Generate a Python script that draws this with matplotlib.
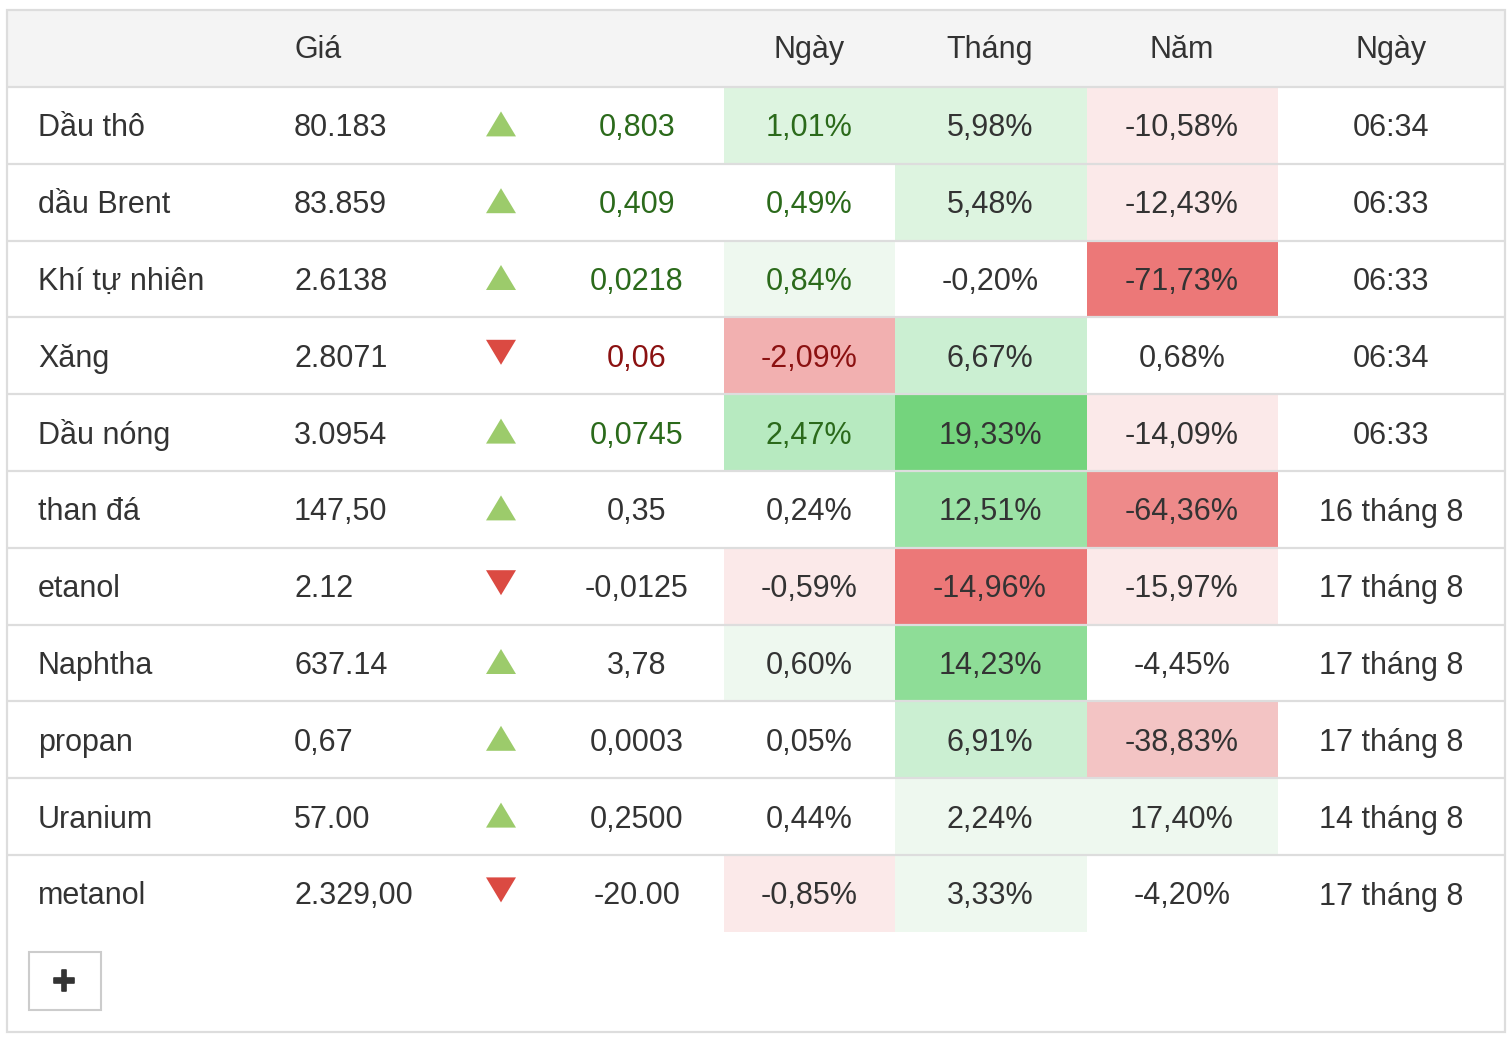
import matplotlib.pyplot as plt
import matplotlib.patheffects as pe
from matplotlib.patches import Rectangle, Polygon

plt.rcParams['font.family'] = ['Liberation Sans', 'DejaVu Sans']

names = ['Dầu thô', 'dầu Brent', 'Khí tự nhiên', 'Xăng', 'Dầu nóng', 'than đá',
         'etanol', 'Naphtha', 'propan', 'Uranium', 'metanol']
prices = ['80.183', '83.859', '2.6138', '2.8071', '3.0954', '147,50',
          '2.12', '637.14', '0,67', '57.00', '2.329,00']
direction = [1, 1, 1, -1, 1, 1, -1, 1, 1, 1, -1]
changes = ['0,803', '0,409', '0,0218', '0,06', '0,0745', '0,35',
           '-0,0125', '3,78', '0,0003', '0,2500', '-20.00']
day_pct = ['1,01%', '0,49%', '0,84%', '-2,09%', '2,47%', '0,24%',
           '-0,59%', '0,60%', '0,05%', '0,44%', '-0,85%']
month_pct = ['5,98%', '5,48%', '-0,20%', '6,67%', '19,33%', '12,51%',
             '-14,96%', '14,23%', '6,91%', '2,24%', '3,33%']
year_pct = ['-10,58%', '-12,43%', '-71,73%', '0,68%', '-14,09%', '-64,36%',
            '-15,97%', '-4,45%', '-38,83%', '17,40%', '-4,20%']
dates = ['06:34', '06:33', '06:33', '06:34', '06:33', '16 tháng 8',
         '17 tháng 8', '17 tháng 8', '17 tháng 8', '14 tháng 8', '17 tháng 8']
# heat level of each cell (day, month, year), read from the shading
day_heat = [2, 0, 1, -3, 4, 0, -1, 1, 0, 0, -1]
month_heat = [2, 2, 0, 3, 7, 5, -5, 6, 3, 1, 1]
year_heat = [-1, -1, -5, 0, -1, -4, -1, 0, -2, 1, 0]
live = [True, True, True, True, True, False, False, False, False, False, False]
headers = ['Giá', 'Ngày', 'Tháng', 'Năm', 'Ngày']

heat_colors = {0: 'white',
               1: '#EEF8EF', 2: '#DDF4E0', 3: '#CBEFD2', 4: '#B7EAC0',
               5: '#9CE3A6', 6: '#8EDD97', 7: '#74D47D',
               -1: '#FBE9E9', -2: '#F3C4C4', -3: '#F2B0B0', -4: '#EE8A8A', -5: '#EC7878'}

W, H = 1512, 1038
fig = plt.figure(figsize=(W / 100, H / 100), dpi=100)
ax = fig.add_axes([0, 0, 1, 1])
ax.set_xlim(0, W)
ax.set_ylim(H, 0)
ax.axis('off')

left, right, top, bottom = 7, 1505, 10, 1032
head_h = 77
row_h = 76.8
line_c = '#DDDDDD'
txt_c = '#333333'
fs = 22

# header
ax.add_patch(Rectangle((left, top), right - left, head_h, facecolor='#F4F4F4', edgecolor='none'))
ax.add_patch(Rectangle((left, top), right - left, bottom - top, facecolor='none',
                       edgecolor=line_c, linewidth=1.6))

name_x, price_x, tri_x, chg_x = 38, 294, 501, 637
heat_cols = [(724, 895, 809), (895, 1087, 990), (1087, 1278, 1182)]
date_x = 1391

hy = top + 48
ax.text(price_x, hy, headers[0], fontsize=fs, color=txt_c, ha='left', va='baseline')
for (x0, x1, xc), h in zip(heat_cols, headers[1:4]):
    ax.text(xc, hy, h, fontsize=fs, color=txt_c, ha='center', va='baseline')
ax.text(date_x, hy, headers[4], fontsize=fs, color=txt_c, ha='center', va='baseline')

body_top = top + head_h
for i in range(len(names)):
    y0 = body_top + i * row_h
    yc = y0 + row_h / 2
    yb = y0 + 49.5
    # shaded cells
    for (x0, x1, xc), heat in zip(heat_cols, [day_heat, month_heat, year_heat]):
        ax.add_patch(Rectangle((x0, y0), x1 - x0, row_h, facecolor=heat_colors[heat[i]],
                               edgecolor='none'))
    ax.plot([left, right], [y0, y0], color=line_c, linewidth=1.6, solid_capstyle='butt')

    if live[i]:
        move_c = '#2B6A1B' if direction[i] > 0 else '#8B1111'
    else:
        move_c = txt_c

    ax.text(name_x, yb, names[i], fontsize=fs, color=txt_c, ha='left', va='baseline')
    ax.text(price_x, yb, prices[i], fontsize=fs, color=txt_c, ha='left', va='baseline')
    if direction[i] > 0:
        tri = [(tri_x - 15, yc + 11), (tri_x + 15, yc + 11), (tri_x, yc - 14)]
        ax.add_patch(Polygon(tri, closed=True, facecolor='#9CCB6B', edgecolor='none'))
    else:
        tri = [(tri_x - 15, yc - 16), (tri_x + 15, yc - 16), (tri_x, yc + 9)]
        ax.add_patch(Polygon(tri, closed=True, facecolor='#DB4A42', edgecolor='none'))
    ax.text(chg_x, yb, changes[i], fontsize=fs, color=move_c, ha='center', va='baseline')
    ax.text(heat_cols[0][2], yb, day_pct[i], fontsize=fs, color=move_c, ha='center', va='baseline')
    ax.text(heat_cols[1][2], yb, month_pct[i], fontsize=fs, color=txt_c, ha='center', va='baseline')
    ax.text(heat_cols[2][2], yb, year_pct[i], fontsize=fs, color=txt_c, ha='center', va='baseline')
    ax.text(date_x, yb, dates[i], fontsize=fs, color=txt_c, ha='center', va='baseline')

# expand button
ax.add_patch(Rectangle((29, 952), 72, 58, facecolor='white', edgecolor='#CCCCCC', linewidth=1.5))
ax.text(64, 983, '+', fontsize=29, fontweight='bold', color=txt_c, ha='center', va='center',
        path_effects=[pe.withStroke(linewidth=1.2, foreground=txt_c)])

fig.savefig('out.png', dpi=100)
